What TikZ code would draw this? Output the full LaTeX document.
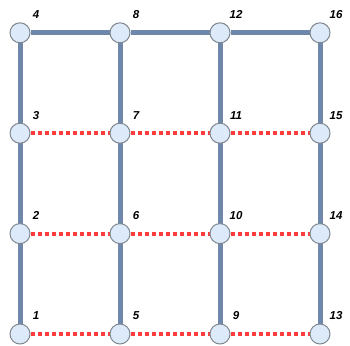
\documentclass[tikz,border=0pt]{standalone}
\usepackage{fontspec}
\newfontfamily\lblfont{Liberation Sans}
\usetikzlibrary{backgrounds}
\definecolor{gridblue}{HTML}{6F87AB}
\definecolor{vertexfill}{HTML}{DDEAF9}
\definecolor{vertexdraw}{HTML}{808890}
\definecolor{cutred}{HTML}{FF3C3C}
\tikzset{
    main_line/.style = {
        draw=gridblue,
        line width=5pt
    },
    cut_line/.style = {
        draw=cutred,
        line width=4pt,
        dash pattern=on 4pt off 3pt
    },
    vertex/.style = {
        circle,
        draw=vertexdraw,
        line width=1pt,
        fill=vertexfill,
        minimum size=20pt,
        inner sep=0pt
    },
    vertex_label/.style = {
        font=\lblfont\bfseries\itshape\fontsize{11.5}{11.5}\selectfont,
        anchor=center,
        inner sep=0pt
    },
}
\begin{document}
\begin{tikzpicture}[x=1pt, y=1pt]
                \useasboundingbox (0, 0) rectangle (350, 345);
                \foreach \i in {1,...,16}{
                    \pgfmathtruncatemacro{\col}{(\i-1)/4}
                    \pgfmathtruncatemacro{\row}{mod(\i-1,4)}
                    \node[vertex] (n\i) at (20+100*\col, 11+100.4*\row) {};
                    \node[vertex_label] (l\i) at ([shift={(16, 18)}]n\i.center) {\i};
                }
                \begin{scope}[on background layer]
                    \foreach \c in {1, 5, 9, 13}{
                        \pgfmathtruncatemacro{\d}{\c+3}
                        \path[main_line] (n\c) -- (n\d);
                    }
                    \path[main_line] (n4) -- (n8) -- (n12) -- (n16);
                    \foreach \r in {1, 2, 3}{
                        \pgfmathtruncatemacro{\a}{\r+4}
                        \pgfmathtruncatemacro{\b}{\r+8}
                        \pgfmathtruncatemacro{\e}{\r+12}
                        \path[cut_line] (n\r) -- (n\a) -- (n\b) -- (n\e);
                    }
                \end{scope}
            \end{tikzpicture}
\end{document}
